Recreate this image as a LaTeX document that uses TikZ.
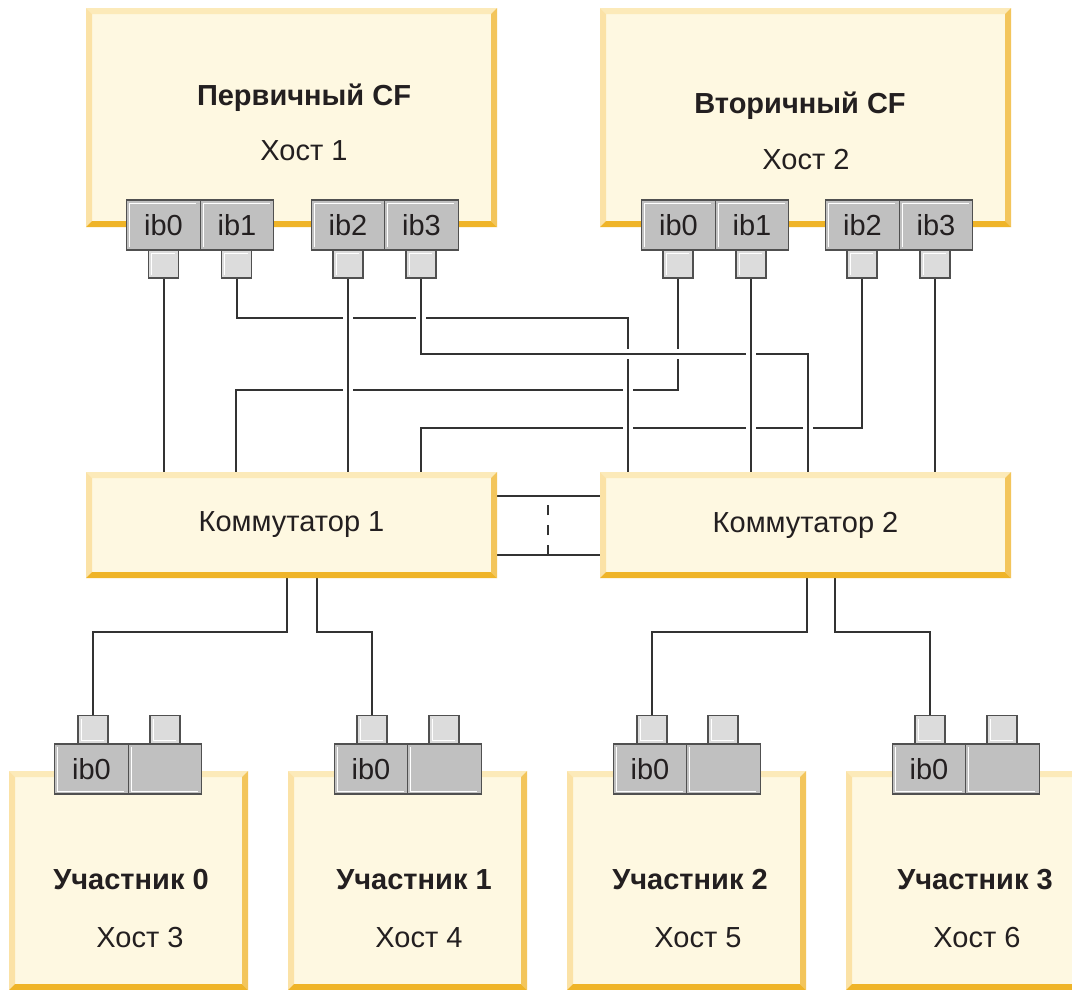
\documentclass[tikz,border=0pt]{standalone}
\usepackage{fontspec}
\setmainfont{Liberation Sans}
\usetikzlibrary{backgrounds}
\definecolor{cfill}{HTML}{FEF8E1}
\definecolor{bvtop}{HTML}{FCEAB9}
\definecolor{bvleft}{HTML}{FBE2A6}
\definecolor{bvright}{HTML}{F3C55B}
\definecolor{bvbot}{HTML}{EFB428}
\definecolor{portfill}{HTML}{C0C0C0}
\definecolor{plugfill}{HTML}{DCDCDC}
\definecolor{portline}{HTML}{505050}
\definecolor{linecol}{HTML}{333333}
\definecolor{textcol}{HTML}{231F20}

\tikzset{
  bevel/.style={fill=cfill, inner sep=0pt, text=textcol,
    path picture={
      \path (path picture bounding box.north west) coordinate (bnw) ++(6pt,-6pt) coordinate (inw)
            (path picture bounding box.north east) coordinate (bne) ++(-6pt,-6pt) coordinate (ine)
            (path picture bounding box.south east) coordinate (bse) ++(-6pt,6pt) coordinate (ise)
            (path picture bounding box.south west) coordinate (bsw) ++(6pt,6pt) coordinate (isw);
      \fill[bvtop]   (bnw) -- (bne) -- (ine) -- (inw) -- cycle;
      \fill[bvleft]  (bnw) -- (inw) -- (isw) -- (bsw) -- cycle;
      \fill[bvright] (bne) -- (bse) -- (ise) -- (ine) -- cycle;
      \fill[bvbot]   (bsw) -- (isw) -- (ise) -- (bse) -- cycle;
    }},
  hiup/.style={path picture={\draw[white, line width=1pt]
      ([shift={(3pt,3pt)}]path picture bounding box.south west) |-
      ([shift={(-4pt,-3pt)}]path picture bounding box.north east);}},
  hidown/.style={path picture={\draw[white, line width=1pt]
      ([shift={(3pt,-3pt)}]path picture bounding box.north west) |-
      ([shift={(-4pt,3pt)}]path picture bounding box.south east);}}
}

\begin{document}
\fontsize{29}{33}\selectfont
\begin{tikzpicture}[x=1pt, y=-1pt,
  hostbox/.style={bevel, minimum width=411pt, minimum height=219pt},
  switchbox/.style={bevel, minimum width=411pt, minimum height=106pt},
  memberbox/.style={bevel, minimum width=239pt, minimum height=219pt},
  portbox/.style={draw=portline, line width=1.4pt, fill=portfill, text=textcol,
                  minimum width=73.5pt, minimum height=50pt, inner sep=0pt},
  plugbox/.style={draw=portline, line width=1.4pt, fill=plugfill,
                  minimum width=30pt, minimum height=28pt, inner sep=0pt},
  titletext/.style={anchor=base, font=\bfseries, text=textcol},
  hosttext/.style={anchor=base, text=textcol},
  link/.style={draw=linecol, line width=2pt, preaction={draw=white, line width=10pt}},
  dlink/.style={draw=linecol, line width=2pt, dash pattern=on 10pt off 10pt}
]
  \useasboundingbox (0,0) rectangle (1072,989);
  \clip (0,0) rectangle (1072,989);

  % coupling facilities
  \node[hostbox] (h1) at (291.5,117.5) {};
  \node[hostbox] (h2) at (805.5,117.5) {};
  \node[titletext] (h1t) at (304,105) {Первичный CF};
  \node[hosttext]  (h1n) at (304,160) {Хост 1};
  \node[titletext] (h2t) at (800,113) {Вторичный CF};
  \node[hosttext]  (h2n) at (806,169) {Хост 2};

  \node[portbox, hiup] (h1p0) at (163.5,225) {ib0};
  \node[portbox, hiup] (h1p1) at (237,225)   {ib1};
  \node[portbox, hiup] (h1p2) at (348,225)   {ib2};
  \node[portbox, hiup] (h1p3) at (421.5,225) {ib3};
  \node[plugbox, hiup] (h1c0) at (163.5,264) {};
  \node[plugbox, hiup] (h1c1) at (236.5,264) {};
  \node[plugbox, hiup] (h1c2) at (348,264)   {};
  \node[plugbox, hiup] (h1c3) at (421,264)   {};

  \node[portbox, hiup] (h2p0) at (678.5,225) {ib0};
  \node[portbox, hiup] (h2p1) at (752,225)   {ib1};
  \node[portbox, hiup] (h2p2) at (862.5,225) {ib2};
  \node[portbox, hiup] (h2p3) at (936,225)   {ib3};
  \node[plugbox, hiup] (h2c0) at (678,264)   {};
  \node[plugbox, hiup] (h2c1) at (751,264)   {};
  \node[plugbox, hiup] (h2c2) at (862,264)   {};
  \node[plugbox, hiup] (h2c3) at (935,264)   {};

  % switches
  \node[switchbox] (sw1) at (291.5,525) {Коммутатор 1};
  \node[switchbox] (sw2) at (805.5,525) {Коммутатор 2};
  \coordinate (isl1) at (548,555);
  \coordinate (isl2) at (548,496);

  % members
  \node[memberbox] (m0) at (128.5,880.5) {};
  \node[memberbox] (m1) at (407.5,880.5) {};
  \node[memberbox] (m2) at (686.5,880.5) {};
  \node[memberbox] (m3) at (965.5,880.5) {};
  \node[titletext] (m0t) at (131,889) {Участник 0};
  \node[hosttext]  (m0n) at (140,947) {Хост 3};
  \node[titletext] (m1t) at (414,889) {Участник 1};
  \node[hosttext]  (m1n) at (419,947) {Хост 4};
  \node[titletext] (m2t) at (690,889) {Участник 2};
  \node[hosttext]  (m2n) at (698,947) {Хост 5};
  \node[titletext] (m3t) at (975,889) {Участник 3};
  \node[hosttext]  (m3n) at (977,947) {Хост 6};

  \node[portbox, hidown] (m0p0) at (91.5,769)  {ib0};
  \node[portbox, hidown] (m0p1) at (165,769)   {};
  \node[plugbox, hidown] (m0c0) at (93,729.5)  {};
  \node[plugbox, hidown] (m0c1) at (165,729.5) {};
  \node[portbox, hidown] (m1p0) at (371,769)   {ib0};
  \node[portbox, hidown] (m1p1) at (444.5,769) {};
  \node[plugbox, hidown] (m1c0) at (372,729.5) {};
  \node[plugbox, hidown] (m1c1) at (444,729.5) {};
  \node[portbox, hidown] (m2p0) at (650,769)   {ib0};
  \node[portbox, hidown] (m2p1) at (723.5,769) {};
  \node[plugbox, hidown] (m2c0) at (652,729.5) {};
  \node[plugbox, hidown] (m2c1) at (723,729.5) {};
  \node[portbox, hidown] (m3p0) at (929,769)   {ib0};
  \node[portbox, hidown] (m3p1) at (1002.5,769) {};
  \node[plugbox, hidown] (m3c0) at (930,729.5) {};
  \node[plugbox, hidown] (m3c1) at (1002,729.5) {};

  \begin{scope}[on background layer]
    \fill[white] (0,0) rectangle (1072,989);
    % order matters: later links cut earlier ones
    \draw[link] (h2c0.south) |- (236,390) -- (sw1.north -| 236,0);
    \draw[link] (h2c2.south) |- (421,428) -- (sw1.north -| 421,0);
    \draw[link] (h1c1.south) |- (628,318) -- (sw2.north -| 628,0);
    \draw[link] (h1c3.south) |- (808,354) -- (sw2.north -| 808,0);
    \draw[link] (h1c2.south) -- (sw1.north -| h1c2);
    \draw[link] (h2c1.south) -- (sw2.north -| h2c1);
    \draw[link] (h1c0.south) -- (sw1.north -| h1c0);
    \draw[link] (h2c3.south) -- (sw2.north -| h2c3);

    \draw[link] ([yshift=29pt]sw1.east) -- ([yshift=29pt]sw2.west);
    \draw[link] ([yshift=-30pt]sw1.east) -- ([yshift=-30pt]sw2.west);
    \draw[dlink] (isl1) -- (isl2);

    \draw[link] (sw1.south -| 287,0) -- (287,632) -| (m0c0.north);
    \draw[link] (sw1.south -| 317,0) -- (317,632) -| (m1c0.north);
    \draw[link] (sw2.south -| 807,0) -- (807,632) -| (m2c0.north);
    \draw[link] (sw2.south -| 835,0) -- (835,632) -| (m3c0.north);
  \end{scope}
\end{tikzpicture}
\end{document}
